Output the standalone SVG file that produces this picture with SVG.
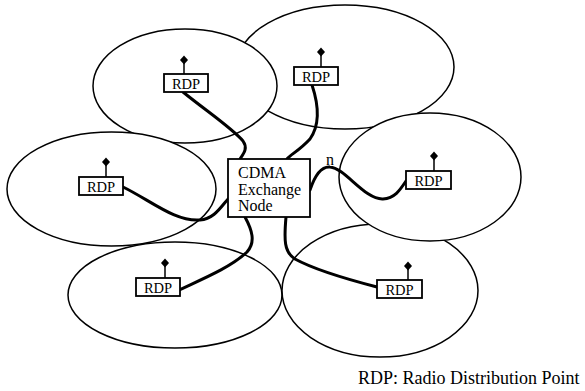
<svg xmlns="http://www.w3.org/2000/svg" width="585" height="391" viewBox="0 0 585 391">
<style>
.cell{fill:#fff;stroke:#000;stroke-width:1.5}
.box{fill:#fff;stroke:#000;stroke-width:1.8}
.stem{stroke:#000;stroke-width:1.5}
.dia{fill:#000}
.lbl{font-family:"Liberation Serif","Times New Roman",serif;font-size:14.5px;fill:#000;text-anchor:middle}
.big{font-family:"Liberation Serif","Times New Roman",serif;font-size:16px;fill:#000}
.wire{fill:none;stroke:#000;stroke-width:3;stroke-linecap:round}
</style>
<rect width="585" height="391" fill="#fff"/>
<g id="cells">
<ellipse id="cell2" class="cell" cx="345" cy="67" rx="109" ry="62"/>
<ellipse id="cell1" class="cell" cx="185" cy="86" rx="92" ry="57"/>
<ellipse id="cell3" class="cell" cx="111.5" cy="189" rx="104.5" ry="57"/>
<ellipse id="cell4" class="cell" cx="175" cy="295" rx="107" ry="53"/>
<ellipse id="cell6" class="cell" cx="380" cy="290.5" rx="98" ry="66.5"/>
<ellipse id="cell5" class="cell" cx="430" cy="177" rx="91" ry="64"/>
</g>
<g id="connectors">
<path class="wire" d="M183,92 C205,110 232,128 243,141 C248,148 244,153 240,159"/>
<path class="wire" d="M312,85 C317,100 322,122 310,139 C300,150 290,155 287,159"/>
<path class="wire" d="M123,187 C150,200 175,222 200,220 C215,219 222,205 229,198"/>
<path class="wire" d="M245,217 C252,230 256,242 247,252 C230,268 200,280 179,290"/>
<path class="wire" d="M286,217 C284,240 284,252 295,259 C315,270 350,280 377,287"/>
<path class="wire" d="M310,190 C314,178 320,166 330,167 C345,168 365,200 383,199 C395,198 400,190 406,181"/>
</g>
<g id="cdma">
<rect class="box" x="228" y="159" width="82" height="58"/>
<text class="big" x="238" y="178">CDMA</text>
<text class="big" x="238" y="195">Exchange</text>
<text class="big" x="238" y="211">Node</text>
</g>
<text id="n-label" class="big" x="326" y="165">n</text>
<g id="rdp1">
<line class="stem" x1="184" y1="74" x2="184" y2="60"/>
<path class="dia" d="M184,55.5 L188,60 L184,64.5 L180,60 Z"/>
<rect class="box" x="164" y="74" width="44" height="18"/>
<text class="lbl" x="186" y="88.5">RDP</text>
</g>
<g id="rdp2">
<line class="stem" x1="321" y1="67" x2="321" y2="52"/>
<path class="dia" d="M321,47.5 L325,52 L321,56.5 L317,52 Z"/>
<rect class="box" x="294" y="67" width="44" height="18"/>
<text class="lbl" x="316" y="81.5">RDP</text>
</g>
<g id="rdp3">
<line class="stem" x1="106" y1="177" x2="106" y2="162"/>
<path class="dia" d="M106,157.5 L110,162 L106,166.5 L102,162 Z"/>
<rect class="box" x="79" y="177" width="44" height="18"/>
<text class="lbl" x="101" y="191.5">RDP</text>
</g>
<g id="rdp4">
<line class="stem" x1="165" y1="278" x2="165" y2="263"/>
<path class="dia" d="M165,258.5 L169,263 L165,267.5 L161,263 Z"/>
<rect class="box" x="136" y="278" width="44" height="18"/>
<text class="lbl" x="158" y="292.5">RDP</text>
</g>
<g id="rdp5">
<line class="stem" x1="434" y1="171" x2="434" y2="156"/>
<path class="dia" d="M434,151.5 L438,156 L434,160.5 L430,156 Z"/>
<rect class="box" x="406" y="171" width="45" height="18"/>
<text class="lbl" x="428.5" y="185.5">RDP</text>
</g>
<g id="rdp6">
<line class="stem" x1="408" y1="280" x2="408" y2="266"/>
<path class="dia" d="M408,261.5 L412,266 L408,270.5 L404,266 Z"/>
<rect class="box" x="377" y="280" width="45" height="18"/>
<text class="lbl" x="399.5" y="294.5">RDP</text>
</g>
<text id="caption" class="big" x="358" y="384" style="font-size:18px">RDP: Radio Distribution Point</text>
</svg>
